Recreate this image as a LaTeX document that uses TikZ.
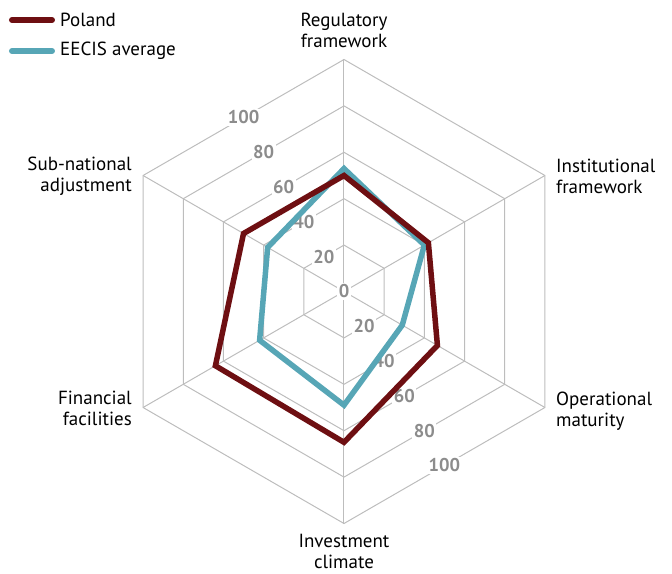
\documentclass[tikz,border=0pt]{standalone}
\usepackage{fontspec}
\setmainfont{PT Sans}
\definecolor{poland}{HTML}{6E0F12}
\definecolor{eecis}{HTML}{57A6B6}
\definecolor{gridgray}{HTML}{BDBDBD}
\definecolor{tickgray}{HTML}{8C8C8C}
\tikzset{
	axislabel/.style={font=\fontsize{19}{21}\selectfont, inner sep=0pt},
	ticklabel/.style={font=\bfseries\fontsize{18.5}{20}\selectfont, text=tickgray, fill=white, inner sep=1.5pt},
	series/.style={line width=5.5pt, line join=miter},
}
\begin{document}
\begin{tikzpicture}[x=1pt, y=1pt]
\useasboundingbox (-344,-281.5) rectangle (328,291.5);
% grid
\foreach \r in {1,...,5}{
	\draw[gridgray, line width=1pt] (90:46.4*\r) -- (30:46.4*\r) -- (-30:46.4*\r)
		-- (-90:46.4*\r) -- (-150:46.4*\r) -- (150:46.4*\r) -- cycle;
}
\foreach \a in {90,30,-30,-90,-150,150}{
	\draw[gridgray, line width=1pt] (0,0) -- (\a:232);
}
% scale
\foreach[count=\i] \v in {0,20,40,60,80,100}{
	\node[ticklabel](ul\i) at(120:2.0092*\v){\v};
}
\foreach[count=\i] \v in {20,40,60,80,100}{
	\node[ticklabel](lr\i) at(-60:2.0092*\v){\v};
}
% series
\draw[series, eecis] (90:2.32*53) -- (30:2.32*40) -- (-30:2.32*29)
	-- (-90:2.32*49) -- (-150:2.32*42) -- (150:2.32*38) -- cycle;
\draw[series, poland] (90:2.32*50) -- (30:2.32*42) -- (-30:2.32*46.5)
	-- (-90:2.32*65) -- (-150:2.32*64) -- (150:2.32*50) -- cycle;
% axis names
\node[axislabel, align=center, anchor=north](reg) at(0,278.5){Regulatory\\framework};
\node[axislabel, align=left, anchor=north west](inst) at(212,133){Institutional\\framework};
\node[axislabel, align=left, anchor=north west](oper) at(212,-100){Operational\\maturity};
\node[axislabel, align=center, anchor=north](inv) at(0,-242){Investment\\climate};
\node[axislabel, align=right, anchor=north east](fin) at(-212,-99){Financial\\facilities};
\node[axislabel, align=right, anchor=north east](sub) at(-212,135){Sub-national\\adjustment};
% legend
\coordinate(pa) at(-332,271.5);
\coordinate(pb) at(-292,271.5);
\coordinate(ea) at(-332,240.5);
\coordinate(eb) at(-292,240.5);
\draw[poland, line width=6pt, line cap=round] (pa) -- (pb);
\draw[eecis, line width=6pt, line cap=round] (ea) -- (eb);
\node[axislabel, anchor=west](polkey) at(-284,272){Poland};
\node[axislabel, anchor=west](eeckey) at(-284,241){EECIS average};
\end{tikzpicture}
\end{document}
